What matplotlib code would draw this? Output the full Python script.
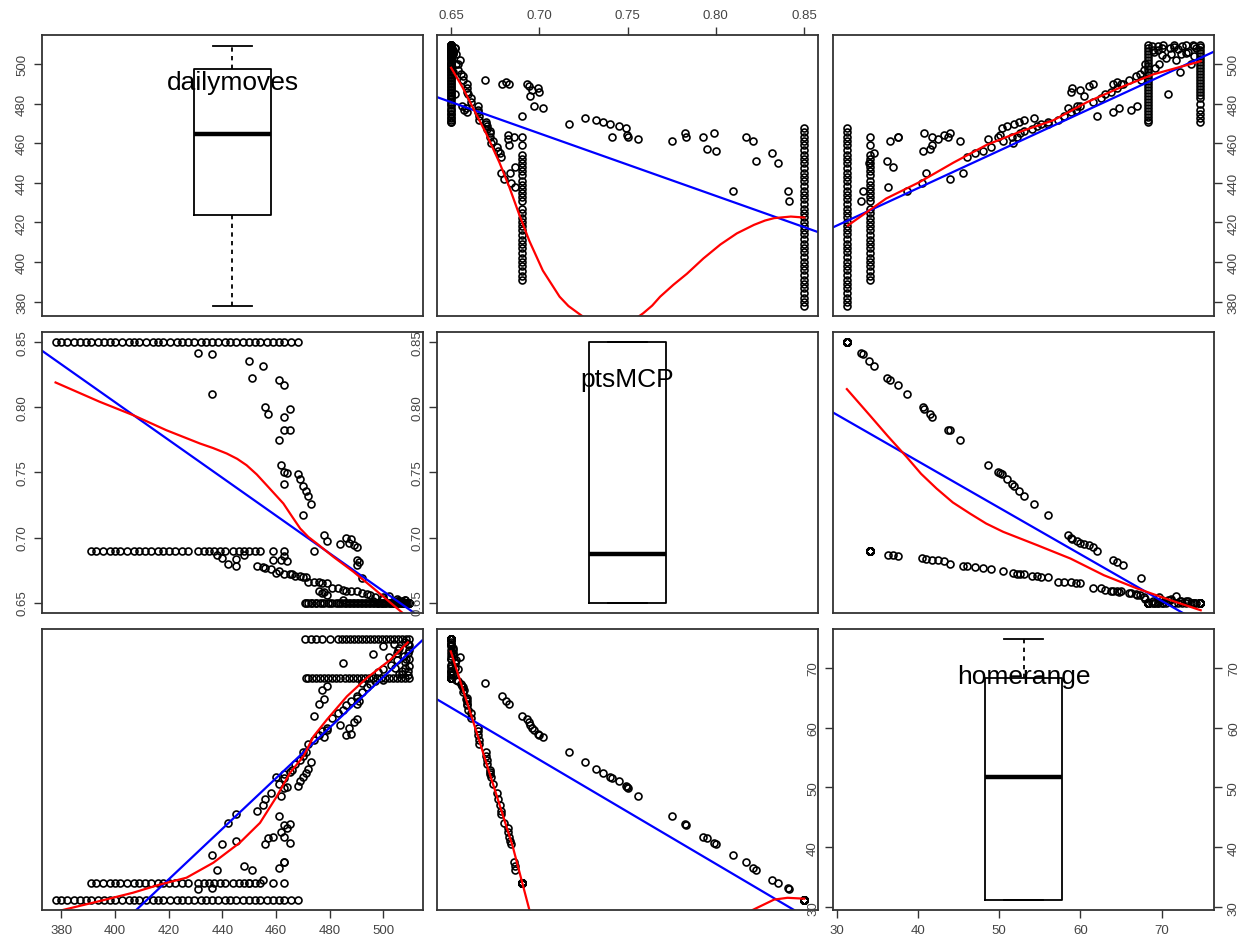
import numpy as np
import matplotlib
matplotlib.use('Agg')
import matplotlib.pyplot as plt

plt.rcParams['font.family'] = ['Liberation Sans', 'DejaVu Sans']

names = ['dailymoves', 'ptsMCP', 'homerange']

# points, in groups
# column of points at ptsMCP = 0.85
p85_ptsMCP = 0.85
p85_homerange = 31.3
p85_dailymoves = [378, 380, 382, 384.5, 387, 389, 391, 393.5, 396, 398, 400, 402.5, 405, 407,
                  409, 411.5, 414, 416, 418, 420.5, 423, 425, 427, 429.5, 432, 434, 436, 438.5,
                  441, 443, 445, 447.5, 450, 452, 454, 456.5, 459, 461, 463, 465.5, 468]

# column at ptsMCP = 0.69
p69_ptsMCP = 0.69
p69_homerange = 34.1
p69_dailymoves = [391, 393, 395.5, 398, 400, 402, 404.5, 407, 409, 411, 413.5, 416, 418, 420,
                  422.5, 425, 427, 431, 433, 435, 437, 439, 441, 444, 446, 448, 450, 452, 454,
                  459, 463]

# ptsMCP = 0.65 block, two homerange rows
p65_ptsMCP = 0.65
p65_hr_top = 74.7
p65_dm_top = [470.8, 473, 475, 477, 480, 483, 484.5, 486, 487.5, 489, 490.5, 492, 493.5, 495,
              496.5, 498, 499.5, 501, 502.5, 504, 505.5, 507, 508.5, 509.5]
p65_hr_low = 68.3
p65_dm_low = [471, 472, 473.5, 475, 476.5, 478, 479.5, 481, 482.5, 484, 485.5, 487, 488.5, 490,
              491.5, 493, 494.5, 496, 497.5, 499, 500.5, 502, 503.5, 505, 506.5, 508, 509.5]
# scattered between the two rows
p65_mid_dailymoves = [485, 496, 498, 500, 503, 505, 500, 505, 507, 508, 509, 509.5, 506, 504,
                      502, 509.5, 508, 507, 509, 509.5, 509.5, 509, 508, 506, 507.5, 505.5,
                      508.5, 504.5, 509]
p65_mid_homerange = [70.8, 72.2, 69.2, 69.7, 70.5, 71.2, 73.6, 72.4, 69.5, 71.0, 72.5, 73.8,
                     73.2, 74.0, 71.8, 70.2, 74.2, 68.9, 69.5, 71.5, 73.0, 74.0, 70.0, 69.0,
                     72.0, 73.0, 71.5, 70.0, 68.8]
p65_mid_ptsMCP = [0.652, 0.651, 0.650, 0.654, 0.650, 0.653, 0.650, 0.651, 0.650, 0.652, 0.650,
                  0.650, 0.651, 0.650, 0.655, 0.650, 0.650, 0.651, 0.650, 0.650, 0.650, 0.650,
                  0.652, 0.650, 0.650, 0.651, 0.650, 0.650, 0.650]

# steep band (ptsMCP 0.85 -> 0.67)
bandA_dailymoves = [431, 436, 450, 455, 451, 461, 463, 436, 456, 465, 457, 463, 463, 465, 461,
                    462, 463, 464, 468, 469, 463, 470, 471, 472, 473, 470, 478, 486, 488, 479,
                    487, 484, 489, 490, 474, 490, 491, 490, 492]
bandA_ptsMCP = [0.8415, 0.8410, 0.8355, 0.8320, 0.8230, 0.8210, 0.8170, 0.8100, 0.8000, 0.7990,
                0.7950, 0.7930, 0.7830, 0.7825, 0.7750, 0.7560, 0.7500, 0.7495, 0.7490, 0.7450,
                0.7410, 0.7400, 0.7360, 0.7320, 0.7260, 0.7170, 0.7020, 0.7000, 0.6990, 0.6970,
                0.6960, 0.6950, 0.6940, 0.6930, 0.6900, 0.6830, 0.6810, 0.6790, 0.6690]
bandA_homerange = [33.0, 33.2, 34.0, 34.6, 36.2, 36.6, 37.5, 38.7, 40.6, 40.8, 41.5, 41.8, 43.7,
                   43.9, 45.2, 48.6, 49.9, 50.1, 50.3, 51.0, 51.6, 51.8, 52.4, 53.1, 54.3, 56.0,
                   58.5, 58.8, 59.0, 59.6, 60.0, 60.5, 61.0, 61.5, 62.0, 64.0, 64.5, 65.3, 67.5]

# flat band (ptsMCP 0.69 -> 0.65)
bandB_dailymoves = [438, 448, 463, 440, 445, 459, 462, 464, 442, 445, 453, 455, 456, 458, 461,
                    460, 463, 465, 466, 467, 469, 470, 471, 472, 474, 476, 477, 479, 481, 483,
                    485, 486, 488, 490, 492, 494, 495, 497, 500, 476, 478, 477, 479]
bandB_ptsMCP = [0.6865, 0.6862, 0.6858, 0.6840, 0.6835, 0.6830, 0.6825, 0.6820, 0.6800, 0.6785,
                0.6780, 0.6775, 0.6765, 0.6760, 0.6740, 0.6725, 0.6722, 0.6720, 0.6718, 0.6705,
                0.6702, 0.6700, 0.6698, 0.6660, 0.6657, 0.6655, 0.6652, 0.6650, 0.6615, 0.6612,
                0.6595, 0.6592, 0.6590, 0.6588, 0.6570, 0.6565, 0.6555, 0.6540, 0.6530, 0.6590,
                0.6585, 0.6575, 0.6560]
bandB_homerange = [36.3, 36.9, 37.5, 40.5, 41.0, 41.8, 42.5, 43.2, 44.0, 45.5, 46.1, 47.0, 48.0,
                   49.0, 50.5, 51.7, 52.2, 52.6, 53.0, 54.0, 54.6, 55.2, 56.0, 57.3, 58.0, 58.8,
                   59.5, 60.0, 61.6, 62.5, 63.0, 63.8, 64.5, 65.0, 66.0, 66.8, 67.3, 67.8, 68.0,
                   64.0, 64.8, 66.2, 67.0]

# boxplot stats on the diagonal (whislo, q1, med, q3, whishi)
box_dailymoves = [377.7, 423.9, 464.9, 497.8, 509.1]
box_ptsMCP = [0.650, 0.650, 0.687, 0.850, 0.850]
box_homerange = [31.3, 31.3, 51.8, 68.3, 74.7]

# blue linear fits, end points at the panel edges (y var on x var)
lin_dm_pm_x, lin_dm_pm_y = [0.6422, 0.8582], [483.3, 415.1]
lin_dm_hr_x, lin_dm_hr_y = [29.54, 76.46], [417.5, 506.4]
lin_pm_dm_x, lin_pm_dm_y = [372.4, 511.3], [0.8441, 0.6423]
lin_pm_hr_x, lin_pm_hr_y = [29.54, 72.75], [0.7962, 0.6415]
lin_hr_dm_x, lin_hr_dm_y = [407.7, 514.5], [29.5, 74.55]
lin_hr_pm_x, lin_hr_pm_y = [0.6422, 0.8445], [64.67, 29.55]

# red smoothers
sm_dm_pm_x = [0.650, 0.6565, 0.6631, 0.6698, 0.6774, 0.6830, 0.6887, 0.6944, 0.7020, 0.7115,
              0.7165, 0.7220, 0.7270, np.nan, 0.7540, 0.7590, 0.7640, 0.7685, 0.7760, 0.7837,
              0.7930, 0.8027, 0.8120, 0.8217, 0.8280, 0.8331, 0.8426, 0.8502]
sm_dm_pm_y = [498.2, 488.3, 476.7, 465.1, 450.3, 437.9, 423.8, 410.6, 395.7, 382.5,
              377.8, 374.2, 371.0, np.nan, 371.0, 374.2, 378.0, 382.5, 388.5, 394.1,
              401.8, 408.9, 414.5, 418.8, 421.0, 422.2, 423.0, 422.5]
sm_dm_hr_x = [31.4, 36.1, 40.2, 44.4, 48.5, 52.6, 56.7, 60.8, 64.9, 69.0, 74.8]
sm_dm_hr_y = [418.5, 432.1, 440.4, 450.3, 459.3, 465.9, 471.7, 480.8, 488.2, 494.9, 501.5]
sm_pm_dm_x = [377.8, 394.2, 406.7, 419.1, 431.6, 436.5, 441.6, 445.5, 449.0, 452.8, 456.5,
              462.7, 466.0, 469.0, 472.0, 475.2, 481.4, 488.9, 496.4, 507.0]
sm_pm_dm_y = [0.8192, 0.8044, 0.7941, 0.7825, 0.7723, 0.7688, 0.7646, 0.7605, 0.7556, 0.7485,
              0.7402, 0.7262, 0.7160, 0.7069, 0.7005, 0.6954, 0.6851, 0.6736, 0.6608, 0.6423]
sm_pm_hr_x = [31.27, 34.07, 36.3, 38.6, 40.4, 42.3, 44.3, 46.4, 48.4, 50.5, 54.7, 58.8, 62.9,
              67.0, 71.1, 74.8]
sm_pm_hr_y = [0.8141, 0.7941, 0.7780, 0.7621, 0.7490, 0.7377, 0.7270, 0.7185, 0.7108, 0.7044,
              0.6941, 0.6838, 0.6710, 0.6608, 0.6518, 0.6441]
sm_hr_dm_x = [379.9, 394.2, 406.7, 416.6, 426.6, 436.6, 446.5, 454.0, 460.3, 465.2, 470.2,
              474.0, 478.9, 486.4, 493.9, 502.6, 509.1]
sm_hr_dm_y = [29.5, 31.05, 32.45, 33.8, 34.95, 37.45, 40.8, 44.1, 48.55, 52.45, 55.2, 58.55,
              61.3, 65.2, 68.3, 71.3, 74.2]
sm_hr_pm_x = [0.6498, 0.6622, 0.6735, 0.6849, 0.6944, 0.6975, np.nan, 0.8170, 0.8208, 0.8331,
              0.8407, 0.8502]
sm_hr_pm_y = [72.7, 61.3, 50.8, 40.2, 29.55, 26.0, np.nan, 28.5, 29.55, 31.3, 31.6, 31.45]

ticks = [[380, 400, 420, 440, 460, 480, 500],
         [0.65, 0.70, 0.75, 0.80, 0.85],
         [30, 40, 50, 60, 70]]
tick_fmt = ['%d', '%.2f', '%d']

# assemble the three variables
dailymoves = np.concatenate([p85_dailymoves, p69_dailymoves, p65_dm_top, p65_dm_low,
                             p65_mid_dailymoves, bandA_dailymoves, bandB_dailymoves])
ptsMCP = np.concatenate([np.full(len(p85_dailymoves), p85_ptsMCP),
                         np.full(len(p69_dailymoves), p69_ptsMCP),
                         np.full(len(p65_dm_top) + len(p65_dm_low), p65_ptsMCP),
                         p65_mid_ptsMCP, bandA_ptsMCP, bandB_ptsMCP])
homerange = np.concatenate([np.full(len(p85_dailymoves), p85_homerange),
                            np.full(len(p69_dailymoves), p69_homerange),
                            np.full(len(p65_dm_top), p65_hr_top),
                            np.full(len(p65_dm_low), p65_hr_low),
                            p65_mid_homerange, bandA_homerange, bandB_homerange])
vals = [dailymoves, ptsMCP, homerange]
boxes = [box_dailymoves, box_ptsMCP, box_homerange]

lines = {(0, 1): (lin_dm_pm_x, lin_dm_pm_y, sm_dm_pm_x, sm_dm_pm_y),
         (0, 2): (lin_dm_hr_x, lin_dm_hr_y, sm_dm_hr_x, sm_dm_hr_y),
         (1, 0): (lin_pm_dm_x, lin_pm_dm_y, sm_pm_dm_x, sm_pm_dm_y),
         (1, 2): (lin_pm_hr_x, lin_pm_hr_y, sm_pm_hr_x, sm_pm_hr_y),
         (2, 0): (lin_hr_dm_x, lin_hr_dm_y, sm_hr_dm_x, sm_hr_dm_y),
         (2, 1): (lin_hr_pm_x, lin_hr_pm_y, sm_hr_pm_x, sm_hr_pm_y)}

# R style limits: range +- 4%
lims = []
for v in vals:
    lo, hi = v.min(), v.max()
    r = hi - lo
    lims.append((lo - 0.04 * r, hi + 0.04 * r))

W, H = 1251, 945
col_x = [42, 437, 833]
row_y = [36, 333, 630]
pw, ph = 381, 281

fig = plt.figure(figsize=(W / 100, H / 100), dpi=100)
dark = '#333333'


def set_ticks(ax, axis, k, sides):
    t = ticks[k]
    labs = [tick_fmt[k] % x for x in t]
    if axis == 'x':
        ax.set_xticks(t)
        ax.set_xticklabels(labs)
        ax.tick_params(axis='x', bottom='bottom' in sides, top='top' in sides,
                       labelbottom='bottom' in sides, labeltop='top' in sides)
    else:
        ax.set_yticks(t)
        ax.set_yticklabels(labs)
        ax.tick_params(axis='y', left='left' in sides, right='right' in sides,
                       labelleft='left' in sides, labelright='right' in sides,
                       labelrotation=90)
        for tk in ax.yaxis.get_major_ticks():
            tk.label1.set_va('center')
            tk.label2.set_va('center')


for i in range(3):
    for j in range(3):
        ax = fig.add_axes([col_x[j] / W, 1 - (row_y[i] + ph) / H, pw / W, ph / H])
        ax.set_xlim(lims[j])
        ax.set_ylim(lims[i])
        ax.set_xticks([])
        ax.set_yticks([])
        ax.tick_params(direction='out', length=5.5, width=1.0, color=dark,
                       labelsize=9.5, labelcolor='#444444', pad=4.5)
        for s in ax.spines.values():
            s.set_color(dark)
            s.set_linewidth(1.3)

        if i == j:
            lo, hi = lims[j]
            b = boxes[i]
            stats = [dict(whislo=b[0], q1=b[1], med=b[2], q3=b[3], whishi=b[4], fliers=[])]
            ax.bxp(stats, positions=[(lo + hi) / 2], widths=[0.2 * (hi - lo)],
                   capwidths=[0.1 * (hi - lo)], showfliers=False, manage_ticks=False,
                   boxprops=dict(color='black', lw=1.3),
                   medianprops=dict(color='black', lw=3.2),
                   whiskerprops=dict(color='black', lw=1.3, ls=(0, (2.4, 2.4))),
                   capprops=dict(color='black', lw=1.3))
            ax.text(0.5, 0.807, names[i], transform=ax.transAxes, ha='center',
                    va='baseline', fontsize=19)
        else:
            ax.plot(vals[j], vals[i], 'o', ls='none', mfc='none', mec='black',
                    ms=5, mew=1.2)
            lx, ly, sx, sy = lines[(i, j)]
            ax.plot(lx, ly, color='#0000ff', lw=1.6)
            ax.plot(sx, sy, color='#ff0000', lw=1.6)

        # axes as R's pairs() plus the boxplot's own y axis
        if i == 0 and j == 1:
            set_ticks(ax, 'x', j, ['top'])
        if i == 2 and j in (0, 2):
            set_ticks(ax, 'x', j, ['bottom'])
        ysides = []
        if i == j:
            ysides.append('left')
        if i == 1 and j == 0:
            ysides.append('left')
        if j == 2 and i in (0, 2):
            ysides.append('right')
        if ysides:
            set_ticks(ax, 'y', i, ysides)

fig.savefig('out.png', dpi=100, facecolor='white')
